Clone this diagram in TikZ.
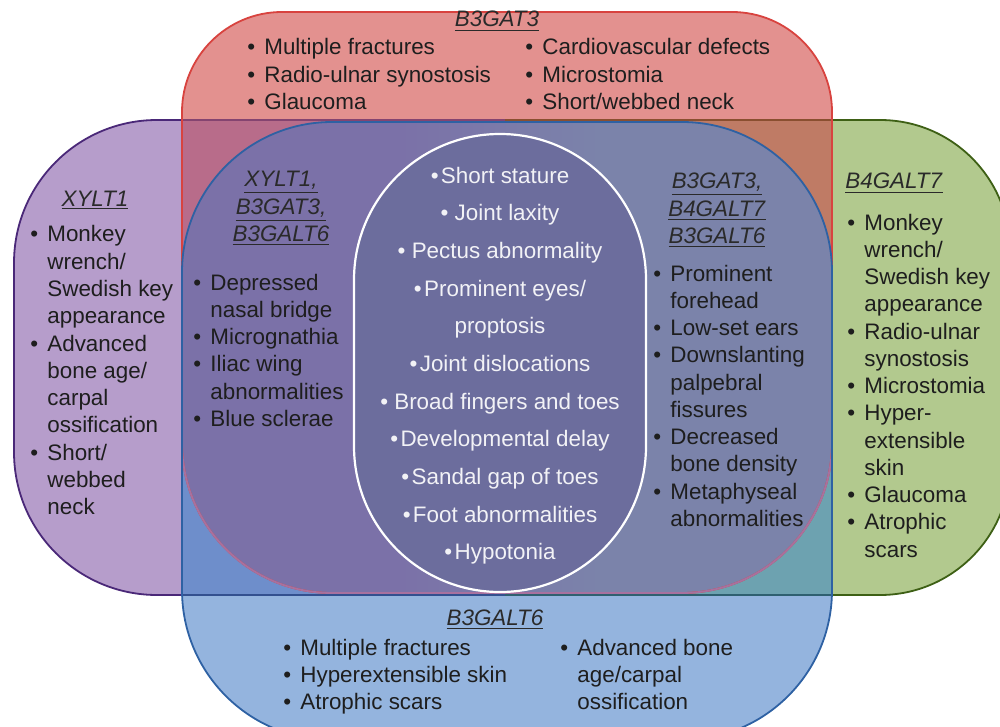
\documentclass[tikz,border=0pt]{standalone}
\usepackage{fontspec}
\setmainfont{Liberation Sans}
\definecolor{cP}{HTML}{B69DCB}
\definecolor{cG}{HTML}{B2C98E}
\definecolor{cR}{HTML}{E3918F}
\definecolor{cB}{HTML}{94B4DE}
\definecolor{cRP}{HTML}{B86C8A}
\definecolor{cRG}{HTML}{BF7B65}
\definecolor{cBP}{HTML}{6E8ECB}
\definecolor{cBG}{HTML}{6DA2B0}
\definecolor{cCa}{HTML}{7B71A8}
\definecolor{cCb}{HTML}{7B83AA}
\definecolor{cE}{HTML}{6C6D9D}
\definecolor{lP}{HTML}{4A2878}
\definecolor{lG}{HTML}{3E6015}
\definecolor{lR}{HTML}{D8433F}
\definecolor{lB}{HTML}{2E61A3}
\definecolor{lPR}{HTML}{854470}
\definecolor{lGR}{HTML}{8A4F30}
\definecolor{lPB}{HTML}{33508F}
\definecolor{lGB}{HTML}{2F6070}
\definecolor{lRB}{HTML}{A8719F}
\definecolor{cTxt}{HTML}{1E1E1E}
\definecolor{cTtl}{HTML}{2A2A2A}
\definecolor{cWt}{HTML}{F2F2F6}
\newcommand\bul{\makebox[8.5pt][l]{\textbullet}}
\newcommand\ind{\hspace*{8.5pt}}
\newcommand\ttl[1]{\underline{\textit{#1}}}
\newcommand\cb{\textbullet\kern1.2pt}
\def\Ppath{[rounded corners=71.5pt] (14,120) rectangle (610,595)}
\def\Gpath{[rounded corners=65pt] (400,120) rectangle (1010,595)}
\def\Bpath{[rounded corners=75pt] (182,122) rectangle (832,740)}
\def\Rpath{(182,300) [rounded corners=50pt] -- (182,12) -- (832,12) -- (832,300) [rounded corners=75pt] -- (832,593) -- (182,593) -- cycle}
\def\Epath{[rounded corners=72.9pt] (354,134) rectangle (646,592)}
\def\Poutline{[rounded corners=71.5pt] (505,120) -- (14,120) -- (14,595) -- (505,595)}
\def\Goutline{[rounded corners=65pt] (505,120) -- (1010,120) -- (1010,595) -- (505,595)}
\tikzset{
  txt/.style={inner sep=0pt, font=\fontsize{11.2}{13.63}\selectfont, text=cTxt},
  ttlbox/.style={inner sep=0pt, font=\fontsize{11.2}{13.63}\selectfont, text=cTtl, anchor=base},
  ctxt/.style={inner sep=0pt, font=\fontsize{11.2}{18.83}\selectfont, text=cWt, anchor=base},
  edge/.style={line width=0.9pt}
}
\begin{document}
\begin{tikzpicture}[x=0.5pt, y=-0.5pt]
\useasboundingbox (0,0) rectangle (1000,727);
% base fills
\fill[cP] \Ppath;
\fill[cG] \Gpath;
\fill[cR] \Rpath;
\fill[cB] \Bpath;
% overlaps with red
\begin{scope}
  \clip \Rpath;
  \fill[cRP] \Ppath;
  \fill[cRG] \Gpath;
\end{scope}
% overlaps with blue
\begin{scope}
  \clip \Bpath;
  \fill[cBP] \Ppath;
  \fill[cBG] \Gpath;
\end{scope}
% centre: red and blue
\begin{scope}
  \clip \Bpath;
  \clip \Rpath;
  \fill[cCa] (170,100) rectangle (401,600);
  \fill[cCb] (599,100) rectangle (840,600);
  \shade[left color=cCa, right color=cCb] (400,100) rectangle (600,600);
\end{scope}
% centre oval
\fill[cE] \Epath;
% outlines
\draw[edge, lP] \Poutline;
\draw[edge, lG] \Goutline;
\begin{scope}
  \clip \Rpath;
  \draw[edge, lPR] \Poutline;
  \draw[edge, lGR] \Goutline;
\end{scope}
\begin{scope}
  \clip \Bpath;
  \draw[edge, lPB] \Poutline;
  \draw[edge, lGB] \Goutline;
\end{scope}
\draw[edge, lR] \Rpath;
\begin{scope}
  \clip \Bpath;
  \draw[edge, lRB] \Rpath;
\end{scope}
\draw[edge, lB] \Bpath;
\draw[line width=1.1pt, white] \Epath;

% ---- texts ----
\node[ttlbox] (tR) at (497,27) {\ttl{B3GAT3}};
\node[txt, anchor=base west] (tRl) at (247,55) {\begin{tabular}[t]{@{}l@{}}\bul Multiple fractures\\ \bul Radio-ulnar synostosis\\ \bul Glaucoma\end{tabular}};
\node[txt, anchor=base west] (tRr) at (525,55) {\begin{tabular}[t]{@{}l@{}}\bul Cardiovascular defects\\ \bul Microstomia\\ \bul Short/webbed neck\end{tabular}};

\node[ttlbox] (tX) at (95,206) {\ttl{XYLT1}};
\node[txt, anchor=base west] (tXl) at (30,242) {\begin{tabular}[t]{@{}l@{}}\bul Monkey\\ \ind wrench/\\ \ind Swedish key\\ \ind appearance\\ \bul Advanced\\ \ind bone age/\\ \ind carpal\\ \ind ossification\\ \bul Short/\\ \ind webbed\\ \ind neck\end{tabular}};

\node[ttlbox] (tXB) at (281,187) {\begin{tabular}[t]{@{}c@{}}\ttl{XYLT1,}\\ \ttl{B3GAT3,}\\ \ttl{B3GALT6}\end{tabular}};
\node[txt, anchor=base west] (tXBl) at (193,290) {\begin{tabular}[t]{@{}l@{}}\bul Depressed\\ \ind nasal bridge\\ \bul Micrognathia\\ \bul Iliac wing\\ \ind abnormalities\\ \bul Blue sclerae\end{tabular}};

\node[ttlbox] (tBG) at (717,189) {\begin{tabular}[t]{@{}c@{}}\ttl{B3GAT3,}\\ \ttl{B4GALT7}\\ \ttl{B3GALT6}\end{tabular}};
\node[txt, anchor=base west] (tBGl) at (653,281) {\begin{tabular}[t]{@{}l@{}}\bul Prominent\\ \ind forehead\\ \bul Low-set ears\\ \bul Downslanting\\ \ind palpebral\\ \ind fissures\\ \bul Decreased\\ \ind bone density\\ \bul Metaphyseal\\ \ind abnormalities\end{tabular}};

\node[ttlbox, anchor=base west] (tG) at (845,189) {\ttl{B4GALT7}};
\node[txt, anchor=base west] (tGl) at (847,230) {\begin{tabular}[t]{@{}l@{}}\bul Monkey\\ \ind wrench/\\ \ind Swedish key\\ \ind appearance\\ \bul Radio-ulnar\\ \ind synostosis\\ \bul Microstomia\\ \bul Hyper-\\ \ind extensible\\ \ind skin\\ \bul Glaucoma\\ \bul Atrophic\\ \ind scars\end{tabular}};

\node[ctxt] (tC) at (500,183.3) {\begin{tabular}[t]{@{}c@{}}\cb Short stature\\ \textbullet\ Joint laxity\\ \textbullet\ Pectus abnormality\\ \cb Prominent eyes/\\ proptosis\\ \cb Joint dislocations\\ \textbullet\ Broad fingers and toes\\ \cb Developmental delay\\ \cb Sandal gap of toes\\ \cb Foot abnormalities\\ \cb Hypotonia\end{tabular}};

\node[ttlbox] (tB) at (495,625) {\ttl{B3GALT6}};
\node[txt, anchor=base west] (tBl) at (283,655) {\begin{tabular}[t]{@{}l@{}}\bul Multiple fractures\\ \bul Hyperextensible skin\\ \bul Atrophic scars\end{tabular}};
\node[txt, anchor=base west] (tBr) at (560,655) {\begin{tabular}[t]{@{}l@{}}\bul Advanced bone\\ \ind age/carpal\\ \ind ossification\end{tabular}};
\end{tikzpicture}
\end{document}
